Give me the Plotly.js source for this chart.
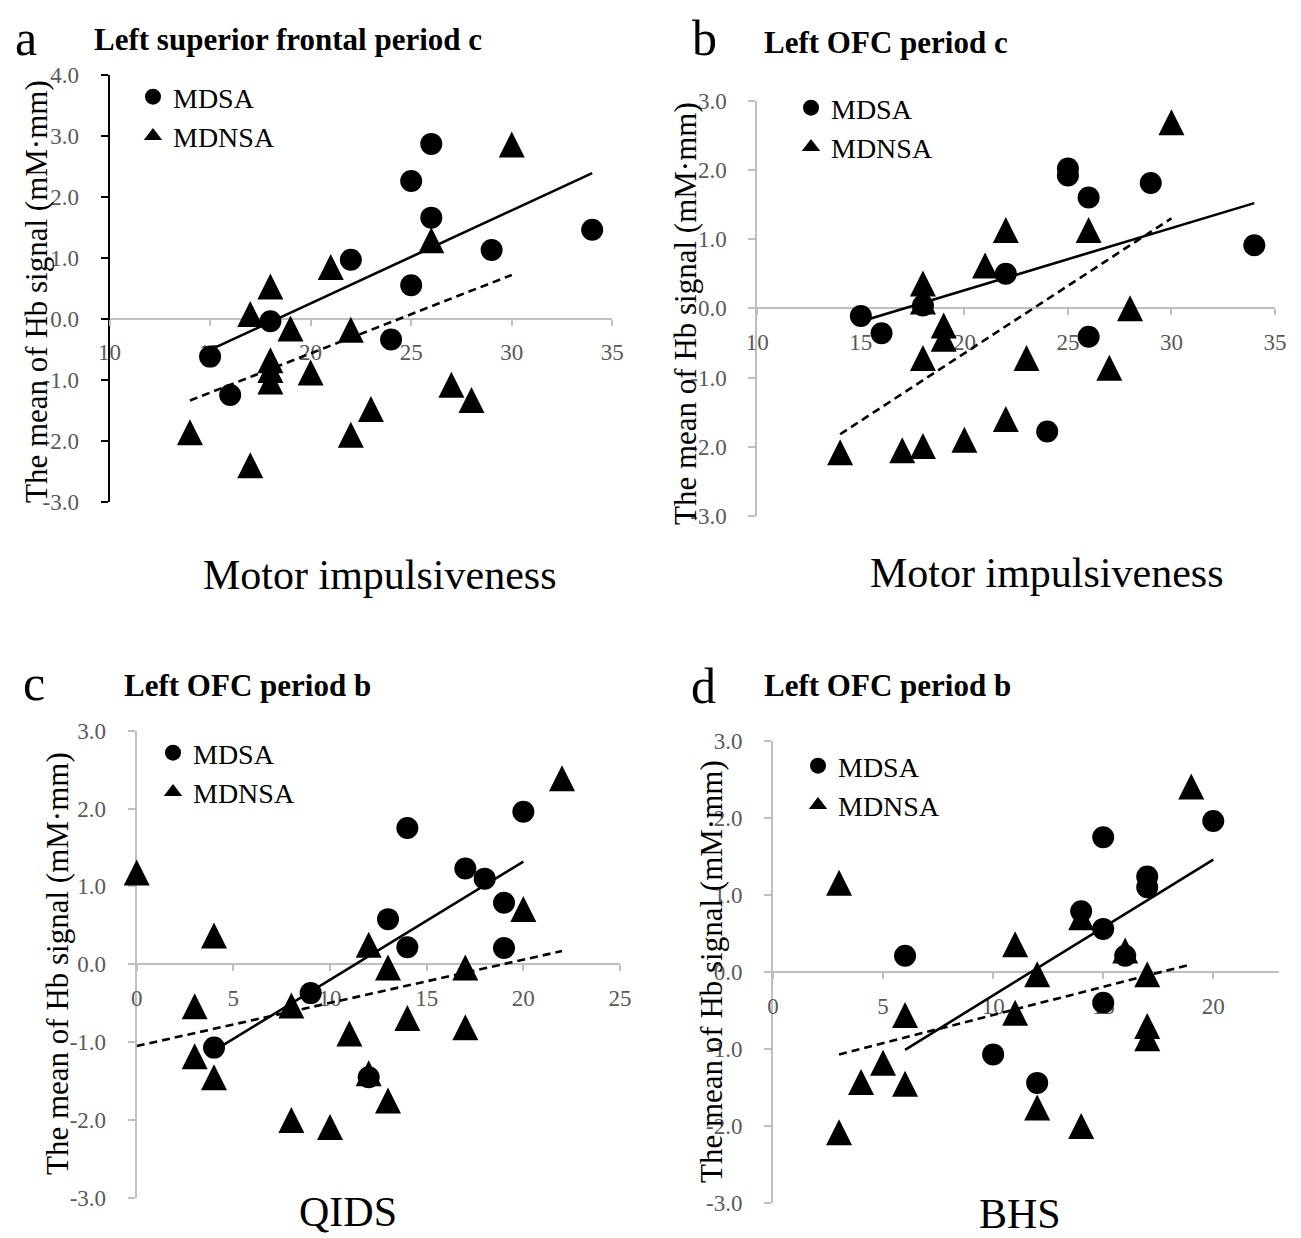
<!DOCTYPE html>
<html><head><meta charset="utf-8">
<script src="https://cdn.plot.ly/plotly-3.0.1.min.js"></script>
<style>html,body{margin:0;padding:0;background:#fff}#chart{width:1301px;height:1238px}</style>
</head><body><div id="chart"></div>
<script>
// ---------- Panel a : Left superior frontal period c (Motor impulsiveness) ----------
const aMdsaX  = [15, 16, 18, 22, 24, 25, 25, 26, 26, 29, 34];
const aMdsaY  = [-0.62, -1.25, -0.04, 0.97, -0.34, 2.26, 0.55, 2.87, 1.66, 1.13, 1.46];
const aMdnsaX = [14, 17, 17, 18, 18, 18, 18, 19, 20, 21, 22, 22, 23, 26, 27, 28, 30];
const aMdnsaY = [-1.86, 0.08, -2.40, 0.53, -0.68, -0.84, -1.03, -0.16, -0.88, 0.85, -0.18, -1.90, -1.48, 1.29, -1.08, -1.33, 2.86];
const aFitMdsaX  = [15, 34];   const aFitMdsaY  = [-0.51, 2.39];
const aFitMdnsaX = [14, 30];   const aFitMdnsaY = [-1.34, 0.72];

// ---------- Panel b : Left OFC period c (Motor impulsiveness) ----------
const bMdsaX  = [15, 16, 18, 22, 24, 25, 25, 26, 26, 29, 34];
const bMdsaY  = [-0.11, -0.36, 0.04, 0.50, -1.78, 2.02, 1.92, 1.60, -0.41, 1.81, 0.91];
const bMdnsaX = [14, 17, 18, 18, 18, 18, 19, 19, 20, 21, 22, 22, 23, 26, 27, 28, 30];
const bMdnsaY = [-2.08, -2.05, 0.36, 0.10, -0.72, -1.99, -0.25, -0.44, -1.90, 0.62, 1.13, -1.60, -0.72, 1.13, -0.86, 0.00, 2.69];
const bFitMdsaX  = [15, 34];   const bFitMdsaY  = [-0.19, 1.52];
const bFitMdnsaX = [14, 30];   const bFitMdnsaY = [-1.82, 1.30];

// ---------- Panel c : Left OFC period b (QIDS) ----------
const cMdsaX  = [4, 9, 12, 13, 14, 14, 17, 18, 19, 19, 20];
const cMdsaY  = [-1.07, -0.37, -1.45, 0.58, 1.75, 0.22, 1.23, 1.10, 0.79, 0.21, 1.96];
const cMdnsaX = [0, 3, 3, 4, 4, 8, 8, 10, 11, 12, 12, 13, 13, 14, 17, 17, 20, 22];
const cMdnsaY = [1.18, -0.54, -1.18, 0.37, -1.45, -0.53, -2.00, -2.09, -0.89, 0.25, -1.40, -0.04, -1.75, -0.69, -0.04, -0.81, 0.71, 2.39];
const cFitMdsaX  = [4, 20];    const cFitMdsaY  = [-1.11, 1.32];
const cFitMdnsaX = [0, 22];    const cFitMdnsaY = [-1.05, 0.17];

// ---------- Panel d : Left OFC period b (BHS) ----------
const dMdsaX  = [6, 10, 12, 14, 15, 15, 15, 16, 17, 17, 20];
const dMdsaY  = [0.21, -1.07, -1.44, 0.79, 1.75, 0.56, -0.40, 0.21, 1.24, 1.10, 1.96];
const dMdnsaX = [3, 3, 4, 5, 6, 6, 11, 11, 12, 12, 14, 14, 16, 17, 17, 17, 19];
const dMdnsaY = [1.16, -2.08, -1.43, -1.18, -0.56, -1.45, 0.36, -0.53, -0.03, -1.76, 0.71, -2.00, 0.28, -0.03, -0.70, -0.86, 2.41];
const dFitMdsaX  = [6, 20];    const dFitMdsaY  = [-1.01, 1.46];
const dFitMdnsaX = [3, 19];    const dFitMdnsaY = [-1.07, 0.10];

// ---------- tick labels ----------
const yTicksA     = [-3, -2, -1, 0, 1, 2, 3, 4];
const yTickTextA  = ['-3.0', '-2.0', '-1.0', '0.0', '1.0', '2.0', '3.0', '4.0'];
const yTicksBCD   = [-3, -2, -1, 0, 1, 2, 3];
const yTickTextBCD= ['-3.0', '-2.0', '-1.0', '0.0', '1.0', '2.0', '3.0'];
const xTicksMotor = [10, 15, 20, 25, 30, 35];
const xTicksQIDS  = [0, 5, 10, 15, 20, 25];
const xTicksBHS   = [0, 5, 10, 15, 20];

const seriesNames = ['MDSA', 'MDNSA'];
const panelLetters = ['a', 'b', 'c', 'd'];
const panelTitles = ['Left superior frontal period c', 'Left OFC period c', 'Left OFC period b', 'Left OFC period b'];
const xTitles = ['Motor impulsiveness', 'Motor impulsiveness', 'QIDS', 'BHS'];
const yTitle = 'The mean of Hb signal (mM\u00B7mm)';

// ---------- layout helpers ----------
const W = 1301, H = 1238;
const fx = p => p / W;
const fy = p => 1 - p / H;
const SERIF = 'Liberation Serif, Times New Roman, serif';
const GRAY = '#bfbfbf';
const LABEL = '#595959';

const panels = [
  {sfx: '',  mx: aMdsaX, my: aMdsaY, nx: aMdnsaX, ny: aMdnsaY, fmx: aFitMdsaX, fmy: aFitMdsaY, fnx: aFitMdnsaX, fny: aFitMdnsaY,
   xr: [10, 35], yr: [-3, 4], xt: xTicksMotor, yt: yTicksA, ytt: yTickTextA,
   xpx: [109.5, 612.3], ypx: [75, 501.7], yline: '#000',
   letter: [26, 38], title: [92, 40], xtitle: [380, 575, 'middle'], ytitle: [36, 292], leg: [133, 72]},
  {sfx: '2', mx: bMdsaX, my: bMdsaY, nx: bMdnsaX, ny: bMdnsaY, fmx: bFitMdsaX, fmy: bFitMdsaY, fnx: bFitMdnsaX, fny: bFitMdnsaY,
   xr: [10, 35], yr: [-3, 3], xt: xTicksMotor, yt: yTicksBCD, ytt: yTickTextBCD,
   xpx: [757.3, 1275], ypx: [100.7, 515.9], yline: GRAY,
   letter: [704, 38], title: [762, 42], xtitle: [1047, 573, 'middle'], ytitle: [685, 314], leg: [791, 83]},
  {sfx: '3', mx: cMdsaX, my: cMdsaY, nx: cMdnsaX, ny: cMdnsaY, fmx: cFitMdsaX, fmy: cFitMdsaY, fnx: cFitMdnsaX, fny: cFitMdnsaY,
   xr: [0, 25], yr: [-3, 3], xt: xTicksQIDS, yt: yTicksBCD, ytt: yTickTextBCD,
   xpx: [136.7, 620], ypx: [730.7, 1197.9], yline: GRAY,
   letter: [34, 683], title: [122, 685], xtitle: [348, 1236, 'bottom'], ytitle: [57, 964], leg: [153, 728]},
  {sfx: '4', mx: dMdsaX, my: dMdsaY, nx: dMdnsaX, ny: dMdnsaY, fmx: dFitMdsaX, fmy: dFitMdsaY, fnx: dFitMdnsaX, fny: dFitMdnsaY,
   xr: [0, 23], yr: [-3, 3], xt: xTicksBHS, yt: yTicksBCD, ytt: yTickTextBCD,
   xpx: [773, 1279.3], ypx: [741, 1203], yline: GRAY,
   letter: [703, 686], title: [762, 685], xtitle: [1020, 1238, 'bottom'], ytitle: [712, 972], leg: [798, 741]}
];

const traces = [];
const layout = {
  width: W, height: H,
  margin: {l: 0, r: 0, t: 0, b: 0},
  paper_bgcolor: '#fff', plot_bgcolor: 'rgba(0,0,0,0)',
  font: {family: SERIF, color: '#000'},
  annotations: []
};

panels.forEach((p, i) => {
  const xa = 'x' + p.sfx, ya = 'y' + p.sfx;
  const legName = 'legend' + p.sfx;
  // data markers
  traces.push({type: 'scatter', mode: 'markers', name: seriesNames[0], x: p.mx, y: p.my,
    xaxis: xa, yaxis: ya, showlegend: false, cliponaxis: false,
    marker: {symbol: 'circle', size: 22, color: '#000'}});
  traces.push({type: 'scatter', mode: 'markers', name: seriesNames[1], x: p.nx, y: p.ny,
    xaxis: xa, yaxis: ya, showlegend: false, cliponaxis: false,
    marker: {symbol: 'arrow-down', angle: 180, standoff: 13, size: 26, color: '#000'}});
  // trend lines
  traces.push({type: 'scatter', mode: 'lines', x: p.fmx, y: p.fmy, xaxis: xa, yaxis: ya,
    showlegend: false, hoverinfo: 'skip', line: {color: '#000', width: 2.6}});
  traces.push({type: 'scatter', mode: 'lines', x: p.fnx, y: p.fny, xaxis: xa, yaxis: ya,
    showlegend: false, hoverinfo: 'skip', line: {color: '#000', width: 2.6, dash: '8px,5px'}});
  // legend entries
  traces.push({type: 'scatter', mode: 'markers', name: seriesNames[0], x: [null], y: [null],
    xaxis: xa, yaxis: ya, legend: legName, showlegend: true,
    marker: {symbol: 'circle', size: 16, color: '#000'}});
  traces.push({type: 'scatter', mode: 'markers', name: seriesNames[1], x: [null], y: [null],
    xaxis: xa, yaxis: ya, legend: legName, showlegend: true,
    marker: {symbol: 'triangle-up', size: 16, color: '#000'}});

  const yDom = [fy(p.ypx[1]), fy(p.ypx[0])];
  const zeroFrac = (0 - p.yr[0]) / (p.yr[1] - p.yr[0]);
  const xPos = yDom[0] + zeroFrac * (yDom[1] - yDom[0]);

  layout['xaxis' + p.sfx] = {
    domain: [fx(p.xpx[0]), fx(p.xpx[1])], range: p.xr, anchor: 'free', position: xPos,
    tickmode: 'array', tickvals: p.xt, ticktext: p.xt.map(String),
    showline: true, linecolor: GRAY, linewidth: 2, ticks: 'outside', ticklen: 6, tickwidth: 2, tickcolor: GRAY,
    ticklabelstandoff: 7, tickfont: {family: SERIF, size: 23, color: LABEL},
    showgrid: false, zeroline: false, layer: 'below traces', fixedrange: true
  };
  layout['yaxis' + p.sfx] = {
    domain: yDom, range: p.yr, anchor: xa,
    tickmode: 'array', tickvals: p.yt, ticktext: p.ytt,
    showline: true, linecolor: p.yline, linewidth: 2, ticks: 'outside', ticklen: 7, tickwidth: 2, tickcolor: p.yline,
    ticklabelstandoff: 17, tickfont: {family: SERIF, size: 23, color: LABEL},
    showgrid: false, zeroline: false, layer: 'below traces', fixedrange: true
  };
  layout[legName] = {
    x: fx(p.leg[0]), y: fy(p.leg[1]), xanchor: 'left', yanchor: 'top',
    bgcolor: 'rgba(0,0,0,0)', borderwidth: 0, font: {family: SERIF, size: 28, color: '#000'},
    itemwidth: 30, tracegroupgap: 0
  };
  layout.annotations.push(
    {text: panelLetters[i], x: fx(p.letter[0]), y: fy(p.letter[1]), xref: 'paper', yref: 'paper',
     xanchor: 'center', yanchor: 'middle', showarrow: false, font: {family: SERIF, size: 50, color: '#000'}},
    {text: '<b>' + panelTitles[i] + '</b>', x: fx(p.title[0]), y: fy(p.title[1]), xref: 'paper', yref: 'paper',
     xanchor: 'left', yanchor: 'middle', showarrow: false, font: {family: SERIF, size: 31, color: '#000'}},
    {text: xTitles[i], x: fx(p.xtitle[0]), y: fy(p.xtitle[1]), xref: 'paper', yref: 'paper',
     xanchor: 'center', yanchor: p.xtitle[2], borderpad: 0, showarrow: false, font: {family: SERIF, size: 42, color: '#000'}},
    {text: yTitle, x: fx(p.ytitle[0]), y: fy(p.ytitle[1]), xref: 'paper', yref: 'paper', textangle: -90,
     xanchor: 'center', yanchor: 'middle', showarrow: false, font: {family: SERIF, size: 31, color: '#000'}}
  );
});

Plotly.newPlot('chart', traces, layout, {staticPlot: true, displayModeBar: false});
</script></body></html>
